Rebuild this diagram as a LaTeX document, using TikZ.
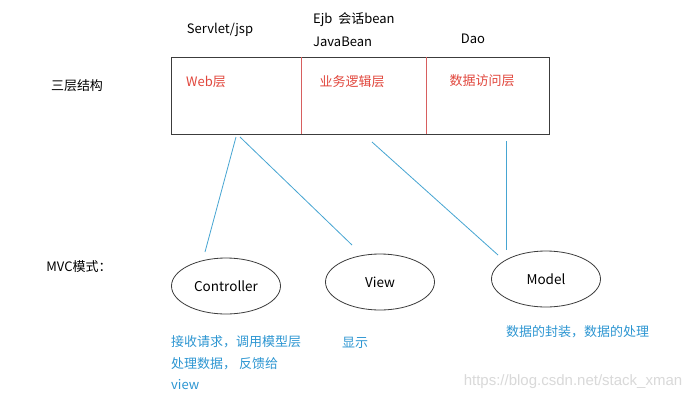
\documentclass[tikz,border=0pt]{standalone}
\definecolor{tierred}{RGB}{225, 70, 60}
\definecolor{divred}{RGB}{215, 95, 95}
\definecolor{mvcblue}{RGB}{45, 150, 210}
\definecolor{linkblue}{RGB}{70, 165, 210}
\definecolor{framegray}{RGB}{60, 60, 60}
\usepackage{fontspec}
\setmainfont{Noto Sans CJK SC}
\newfontfamily\markfont{Liberation Sans}
\usetikzlibrary{
    shapes.geometric,
    positioning,
    calc
}
\tikzset{
    plain/.style={font=\fontsize{13}{15}\selectfont, text=black, inner sep=0pt},
    tiertext/.style={plain, text=tierred},
    notetext/.style={plain, text=mvcblue, anchor=west},
    part/.style={ellipse, draw=framegray, line width=0.8pt, minimum width=109pt,
                 minimum height=56pt, font=\fontsize{13.5}{15}\selectfont},
    link/.style={draw=linkblue, line width=0.8pt}
}

\begin{document}
\begin{tikzpicture}[x=1pt, y=-1pt]
            \useasboundingbox[fill=white] (0,0) rectangle (697,400);

            % Three tiers
            \node[minimum width=130pt, minimum height=77pt, anchor=north west] (web) at (171,57) {};
            \node[minimum width=125pt, minimum height=77pt, anchor=north west] (biz) at (301,57) {};
            \node[minimum width=123pt, minimum height=77pt, anchor=north west] (dao) at (426,57) {};
            \draw[framegray, line width=0.9pt] (web.north west) rectangle (dao.south east);
            \draw[divred, line width=0.9pt] (web.north east) -- (web.south east);
            \draw[divred, line width=0.9pt] (biz.north east) -- (biz.south east);

            \node[tiertext] (webname) at (206,82) {Web层};
            \node[tiertext] (bizname) at (352,82) {业务逻辑层};
            \node[tiertext] (daoname) at (482,81) {数据访问层};

            % Technologies above
            \node[plain] (servlet) at (220,30) {Servlet/jsp};
            \node[plain, anchor=west] (ejb) at (313,20) {Ejb\ \ 会话bean};
            \node[plain, anchor=west] (javabean) at (313,42) {JavaBean};
            \node[plain] (daotech) at (473,39) {Dao};

            % Left titles
            \node[plain] (tiers) at (77,86) {三层结构};
            \node[plain] (mvc) at (79,267) {MVC模式：};

            % MVC parts
            \node[part] (controller) at (226,286) {Controller};
            \node[part] (view) at (380,282) {View};
            \node[part] (model) at (546,279) {Model};

            % Notes
            \node[notetext] (ctrlnote1) at (171,342) {接收请求，调用模型层};
            \node[notetext] (ctrlnote2) at (171,364) {处理数据，\ 反馈给};
            \node[notetext] (ctrlnote3) at (171,385) {view};
            \node[notetext] (viewnote) at (342,343) {显示};
            \node[notetext] (modelnote) at (506,332) {数据的封装，数据的处理};

            % Connectors
            \coordinate (w1) at (236,137);
            \coordinate (w2) at (240,137);
            \coordinate (b1) at (372,142);
            \coordinate (d1) at (506,141);
            \coordinate (c1) at (205,252);
            \coordinate (v1) at (352,245);
            \coordinate (m1) at (498,255);
            \coordinate (m2) at (506,250);
            \foreach \from/\to in {w1/c1, w2/v1, b1/m1, d1/m2}
                \draw[link] (\from) -- (\to);

            \node[inner sep=0pt, text=gray!30, font=\markfont\fontsize{15}{17}\selectfont]
                (mark) at (573,382) {https://blog.csdn.net/stack\_xman};
        \end{tikzpicture}
\end{document}
